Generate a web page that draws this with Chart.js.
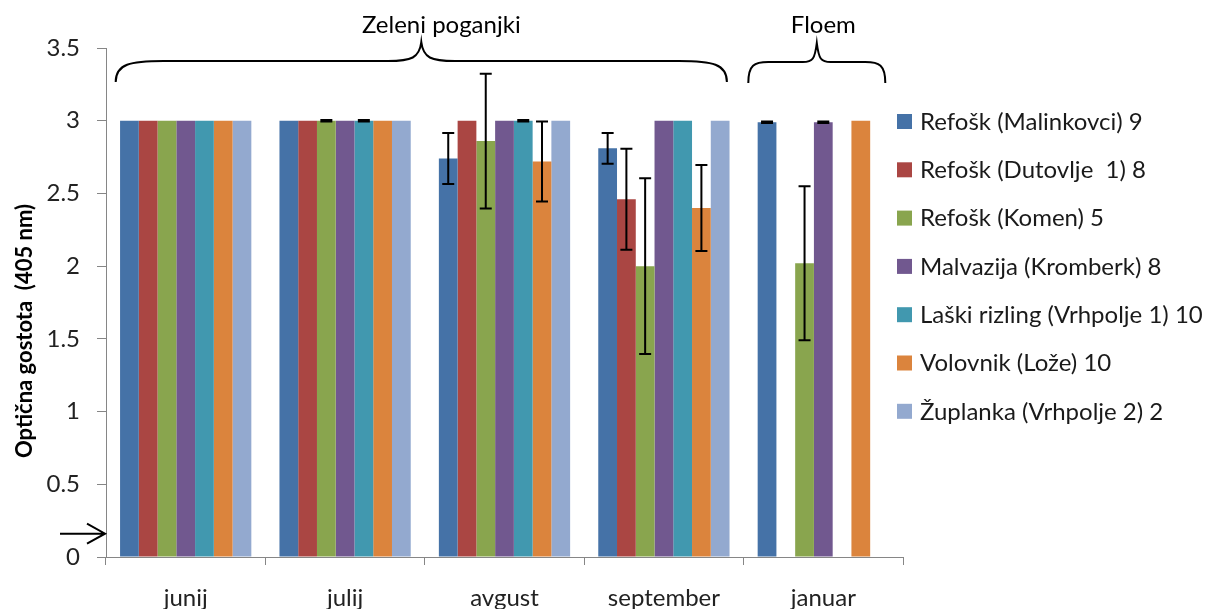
<!DOCTYPE html>
<html>
<head>
<meta charset="utf-8">
<script src="https://cdn.jsdelivr.net/npm/chart.js@4/dist/chart.umd.min.js"></script>
<style>
  html,body{margin:0;padding:0;background:#fff;}
  #c{display:block;}
</style>
</head>
<body>
<canvas id="c" width="1212" height="609"></canvas>
<script>
const categories = ['junij', 'julij', 'avgust', 'september', 'januar'];
const yTicks = [0, 0.5, 1, 1.5, 2, 2.5, 3, 3.5];

const labels = [
  'Refošk (Malinkovci) 9',
  'Refošk (Dutovlje  1) 8',
  'Refošk (Komen) 5',
  'Malvazija (Kromberk) 8',
  'Laški rizling (Vrhpolje 1) 10',
  'Volovnik (Lože) 10',
  'Župlanka (Vrhpolje 2) 2'
];
const colors = ['#4572A7', '#AA4643', '#89A54E', '#71588F', '#4198AF', '#DB843D', '#93A9CF'];

// mean values
const malinkovci = [3, 3, 2.74, 2.81, 2.99];
const dutovlje   = [3, 3, 3, 2.46, null];
const komen      = [3, 3, 2.86, 2.0, 2.02];
const kromberk   = [3, 3, 3, 3, 2.99];
const vrhpolje1  = [3, 3, 3, 3, null];
const loze       = [3, 3, 2.72, 2.40, 3];
const zuplanka   = [3, 3, 3, 3, null];

// error (+/-)
const errMalinkovci = [0, 0, 0.175, 0.106, 0.005];
const errDutovlje   = [0, 0, 0, 0.347, 0];
const errKomen      = [0, 0.005, 0.463, 0.604, 0.53];
const errKromberk   = [0, 0, 0, 0, 0.005];
const errVrhpolje1  = [0, 0.005, 0.005, 0, 0];
const errLoze       = [0, 0, 0.275, 0.296, 0];
const errZuplanka   = [0, 0, 0, 0, 0];

const values = [malinkovci, dutovlje, komen, kromberk, vrhpolje1, loze, zuplanka];
const errors = [errMalinkovci, errDutovlje, errKomen, errKromberk, errVrhpolje1, errLoze, errZuplanka];

const FONT = 'Lato, "Open Sans", sans-serif';
const AXIS = '#868686';

const datasets = values.map((v, i) => ({
  label: labels[i],
  data: v,
  errors: errors[i],
  backgroundColor: colors[i],
  borderWidth: 0,
  categoryPercentage: 7 / 8.5,
  barPercentage: 1
}));

function drawBrace(ctx, x1, x2, xc, yTop, yTip, yEnd, r){
  ctx.beginPath();
  ctx.moveTo(x1, yEnd);
  ctx.bezierCurveTo(x1, yTop + 3, x1 + r * 0.3, yTop, x1 + r, yTop);
  ctx.lineTo(xc - r * 0.7, yTop);
  ctx.bezierCurveTo(xc - r * 0.2, yTop, xc - 2, yTop - 3, xc, yTip);
  ctx.bezierCurveTo(xc + 2, yTop - 3, xc + r * 0.2, yTop, xc + r * 0.7, yTop);
  ctx.lineTo(x2 - r, yTop);
  ctx.bezierCurveTo(x2 - r * 0.3, yTop, x2, yTop + 3, x2, yEnd);
  ctx.stroke();
}

const extras = {
  id: 'extras',
  afterDatasetsDraw(chart){
    const ctx = chart.ctx;
    const y = chart.scales.y, x = chart.scales.x;
    ctx.save();
    // error bars
    ctx.strokeStyle = '#000';
    ctx.lineWidth = 2;
    chart.data.datasets.forEach((ds, i) => {
      const meta = chart.getDatasetMeta(i);
      meta.data.forEach((bar, j) => {
        const v = ds.data[j], e = ds.errors[j];
        if (v == null || !e) return;
        const top = y.getPixelForValue(v + e), bot = y.getPixelForValue(v - e);
        ctx.beginPath();
        ctx.moveTo(bar.x, top); ctx.lineTo(bar.x, bot);
        ctx.moveTo(bar.x - 6, top); ctx.lineTo(bar.x + 6, top);
        ctx.moveTo(bar.x - 6, bot); ctx.lineTo(bar.x + 6, bot);
        ctx.stroke();
      });
    });

    // braces
    const c0 = x.getPixelForValue(0), c3 = x.getPixelForValue(3), c4 = x.getPixelForValue(4);
    const b1 = c0 - 70, b2 = c3 + 63;
    drawBrace(ctx, b1, b2, (b1 + b2) / 2, 61, 42, 82, 48);
    const f1 = c4 - 75, f2 = c4 + 62;
    drawBrace(ctx, f1, f2, (f1 + f2) / 2, 62, 43, 83, 20);

    ctx.fillStyle = '#000';
    ctx.font = '24px ' + FONT;
    ctx.textAlign = 'center';
    ctx.textBaseline = 'middle';
    ctx.fillText('Zeleni poganjki', (b1 + b2) / 2 + 20, 25);
    ctx.fillText('Floem', c4, 25);

    // arrow
    const ay = y.getPixelForValue(0.16);
    const ax = chart.chartArea.left - 1;
    ctx.beginPath();
    ctx.moveTo(60, ay); ctx.lineTo(ax, ay);
    ctx.moveTo(ax - 18, ay - 10); ctx.lineTo(ax, ay); ctx.lineTo(ax - 18, ay + 10);
    ctx.stroke();

    // y title
    ctx.save();
    ctx.translate(25, 331);
    ctx.rotate(-Math.PI / 2);
    ctx.textAlign = 'center';
    ctx.font = 'bold 22px ' + FONT;
    ctx.fillText('Optična gostota  (405 nm)', 0, 0);
    ctx.restore();

    // legend
    ctx.textAlign = 'left';
    ctx.font = '24px ' + FONT;
    chart.data.datasets.forEach((ds, i) => {
      const ly = 121 + i * 48.3;
      ctx.fillStyle = ds.backgroundColor;
      ctx.fillRect(897, ly - 7, 15, 15);
      ctx.fillStyle = '#1a1a1a';
      ctx.fillText(ds.label, 920, ly + 1);
    });
    ctx.restore();
  }
};

new Chart(document.getElementById('c'), {
  type: 'bar',
  data: { labels: categories, datasets },
  plugins: [extras],
  options: {
    responsive: false,
    animation: false,
    devicePixelRatio: 1,
    layout: { padding: { left: 0, right: 309, top: 48, bottom: 0 } },
    plugins: { legend: { display: false }, tooltip: { enabled: false } },
    scales: {
      x: {
        offset: true,
        grid: { offset: true, drawOnChartArea: false, tickLength: 8, color: AXIS },
        border: { color: AXIS },
        ticks: { color: '#222', padding: 19, font: { family: FONT, size: 24 } },
        afterFit: s => { s.height = 52; }
      },
      y: {
        min: 0,
        max: 3.5,
        afterBuildTicks: s => { s.ticks = yTicks.map(v => ({ value: v })); },
        grid: { drawOnChartArea: false, tickLength: 9, color: AXIS },
        border: { color: AXIS },
        ticks: { color: '#222', padding: 17, font: { family: FONT, size: 24 }, callback: v => String(v) },
        afterFit: s => { s.width = 106; }
      }
    }
  }
});
</script>
</body>
</html>
